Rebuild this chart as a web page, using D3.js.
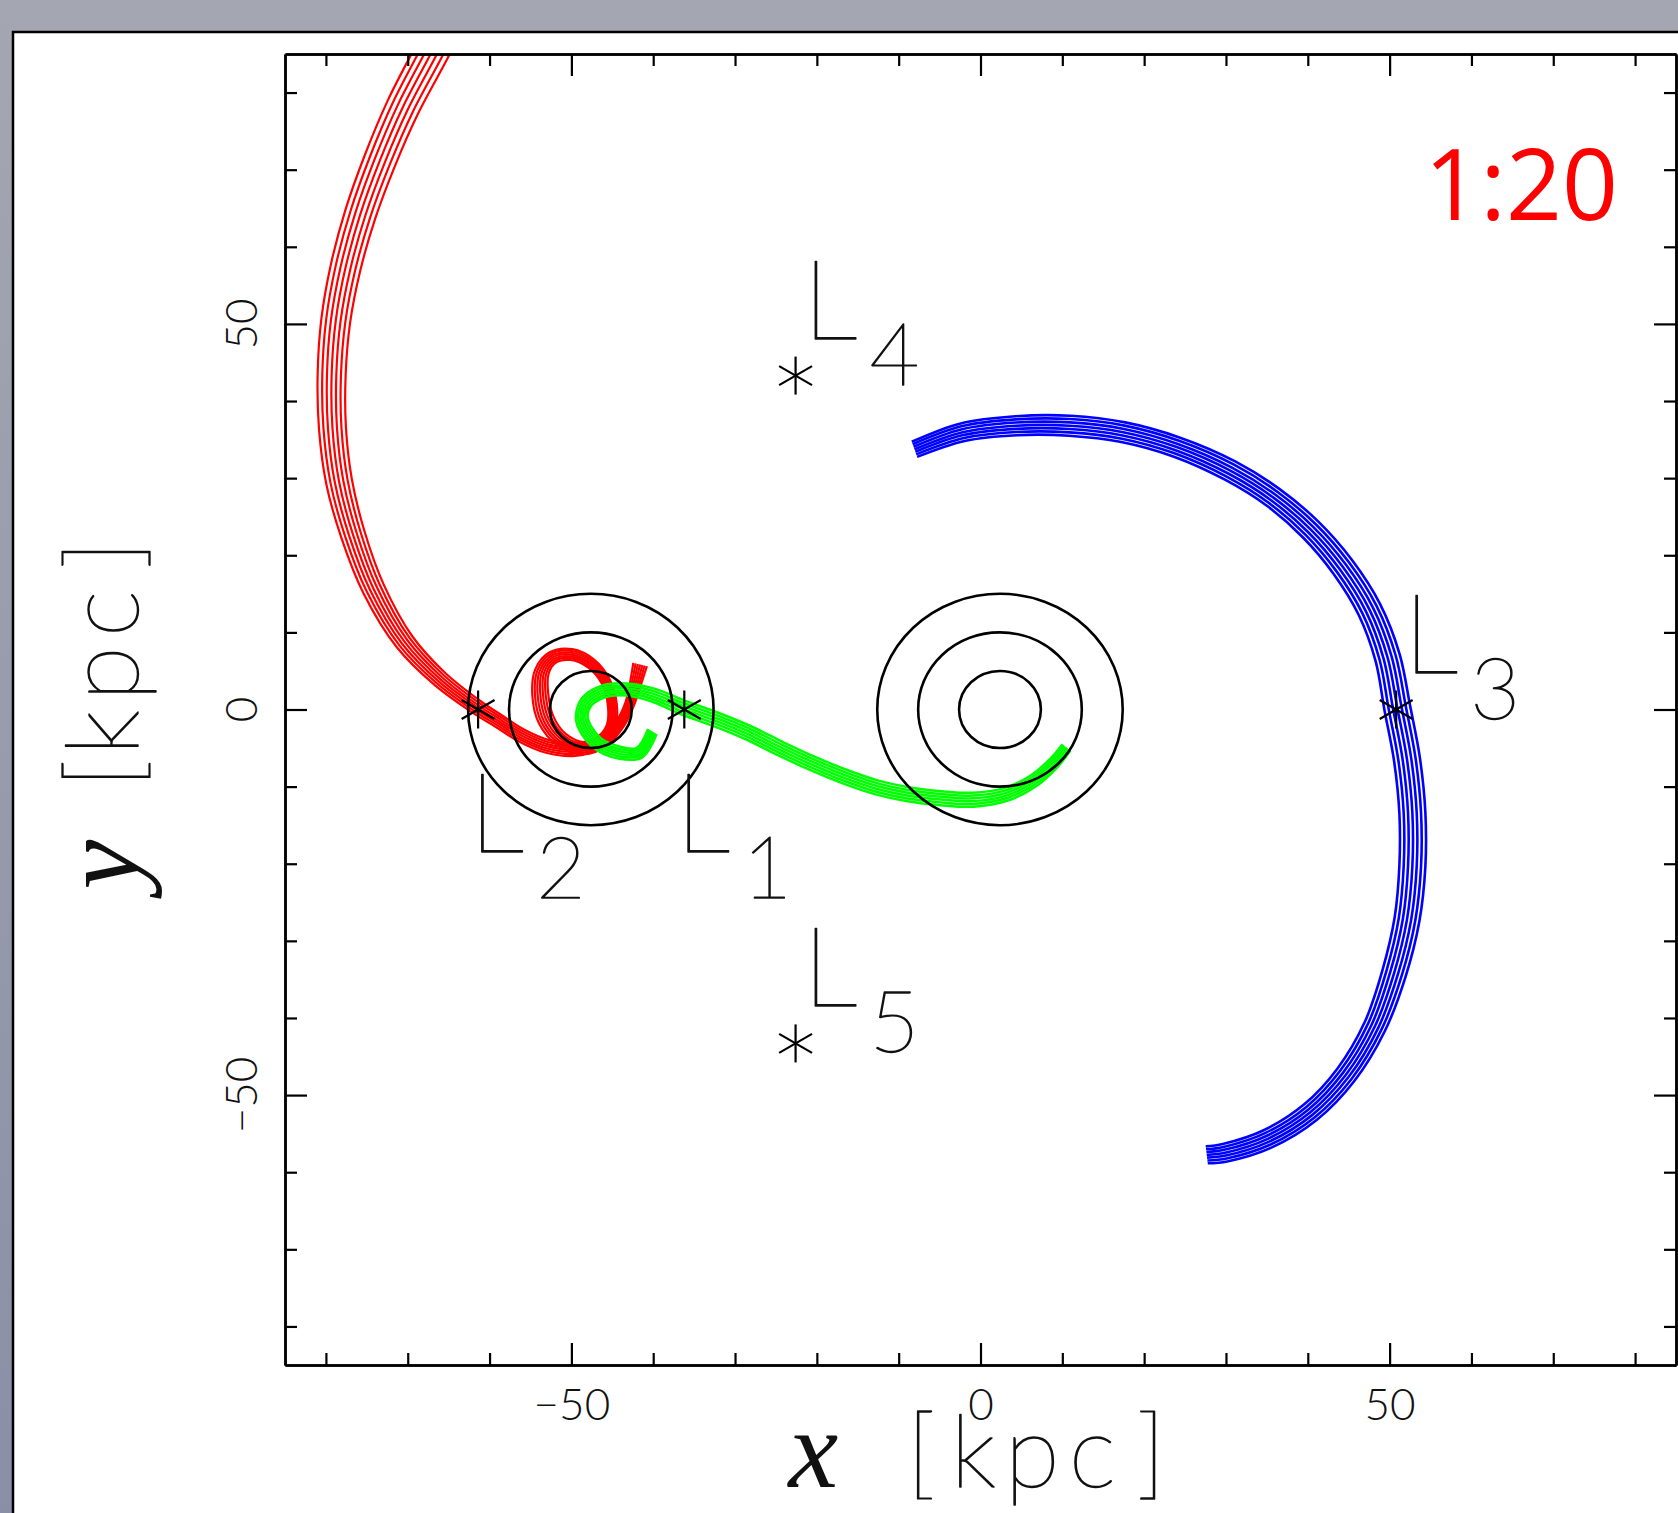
<!DOCTYPE html>
<html>
<head>
<meta charset="utf-8">
<script src="https://cdn.jsdelivr.net/npm/d3@7"></script>
<style>
  html, body { margin: 0; padding: 0; }
  body { width: 1678px; height: 1513px; overflow: hidden; }
  svg { display: block; }
</style>
</head>
<body>
<svg id="chart" width="1678" height="1513"></svg>
<script>
// Test-particle streams in the co-rotating frame of a 1:20 binary (units: kpc)

// primary centres on the x axis
const primaryNames = ["small", "large"];
const primaryX = [-47.62, 2.38];
const primaryY = [0, 0];
// effective-potential contour radii around each primary
const contourRadii = [5, 10, 15];

// Lagrange points
const lagrangeNames = ["1", "2", "3", "4", "5"];
const lagrangeX = [-36.2, -61.4, 50.8, -22.6, -22.6];
const lagrangeY = [0, 0, 0, 43.3, -43.3];

// stream centre lines [x, y]
const redStream = [
  [-66.2, 87.1], [-67.2, 85.0], [-70.6, 78.1], [-73.4, 71.2], [-75.8, 64.2],
  [-77.6, 57.3], [-78.8, 50.4], [-79.3, 43.4], [-79.2, 36.5], [-78.4, 29.6],
  [-76.7, 22.7], [-74.2, 15.7], [-70.4, 8.8], [-66.0, 3.9], [-61.4, 0.2],
  [-58.8, -1.55], [-56.1, -3.37], [-52.9, -4.79], [-49.6, -5.18], [-46.8, -4.40],
  [-45.2, -2.33], [-45.0, 0.65], [-45.8, 3.63], [-47.6, 5.96], [-50.0, 7.12],
  [-52.3, 6.74], [-53.6, 4.92], [-53.8, 1.94], [-53.1, -1.30], [-51.2, -3.89],
  [-48.4, -5.05], [-46.0, -4.15], [-44.1, -1.94], [-42.9, 0.65], [-42.2, 3.24],
  [-41.6, 5.83]
];
const greenStream = [
  [-40.1, -2.85], [-41.7, -5.6], [-44.1, -5.6], [-46.9, -4.3], [-48.7, -1.3],
  [-48.2, 0.9], [-46.2, 2.3], [-43.3, 2.6], [-40.1, 1.9], [-36.2, 0.2],
  [-32.3, -1.3], [-28.4, -3.0], [-24.4, -5.1], [-20.5, -7.0], [-16.6, -8.7],
  [-12.7, -10.1], [-8.8, -11.0], [-4.8, -11.5], [-0.9, -11.7], [3.1, -11.0],
  [6.4, -9.3], [8.9, -7.0], [10.5, -4.9]
];
const blueStream = [
  [-8.07, 33.74], [-2.18, 35.96], [4.36, 36.80], [10.90, 36.80], [17.44, 35.96],
  [23.98, 34.03], [30.53, 30.97], [35.76, 27.51], [40.34, 23.35], [44.27, 18.50],
  [47.54, 12.95], [49.76, 6.71], [50.94, 0.19], [52.12, -6.45], [52.78, -13.39],
  [52.78, -20.32], [52.12, -27.25], [50.55, -34.18], [48.19, -41.11], [44.66, -47.36],
  [40.34, -52.20], [35.11, -55.67], [29.88, -57.47], [27.65, -57.75]
];

// axis ticks
const majorTicks = [-50, 0, 50];
const minorTicks = [-80, -70, -60, -40, -30, -20, -10, 10, 20, 30, 40, 60, 70, 80];
const massRatioLabel = "1:20";

// ---------------------------------------------------------------- drawing
const W = 1678, H = 1513;
const svg = d3.select("#chart");
const defs = svg.append("defs");

const bg = defs.append("linearGradient").attr("id", "bgGrad")
  .attr("x1", 0).attr("y1", 0).attr("x2", 0).attr("y2", 1);
bg.append("stop").attr("offset", 0).attr("stop-color", "#a4a7b1");
bg.append("stop").attr("offset", 1).attr("stop-color", "#8a8fa6");
svg.append("rect").attr("width", W).attr("height", H).attr("fill", "url(#bgGrad)");
svg.append("rect").attr("x", 13).attr("y", 32).attr("width", W + 40).attr("height", H + 40)
  .attr("fill", "#fff").attr("stroke", "#000").attr("stroke-width", 2.5);

const plot = { left: 285, right: 1676, top: 54, bottom: 1365 };
const x = d3.scaleLinear().domain([-85, 85]).range([plot.left, plot.right]);
const y = d3.scaleLinear().domain([-85, 85]).range([plot.bottom, plot.top]);

defs.append("clipPath").attr("id", "plotClip").append("rect")
  .attr("x", plot.left).attr("y", plot.top)
  .attr("width", plot.right - plot.left).attr("height", plot.bottom - plot.top);

const thinFont = "Lato, 'Open Sans', 'DejaVu Sans', sans-serif";
const inkColor = "#111";
// thin face with a hairline outline, giving an even pen-like stroke
const penText = s => s.attr("font-family", thinFont).attr("font-weight", 200)
  .attr("fill", inkColor).attr("stroke", inkColor).attr("stroke-width", 1.4)
  .attr("stroke-linejoin", "round");

// streams: each drawn as a bundle of thin parallel tracks
const streamLayer = svg.append("g").attr("clip-path", "url(#plotClip)");
const curve = d3.line().curve(d3.curveCatmullRom.alpha(0.5));

function drawBundle(data, spread, color, tracks, trackWidth) {
  const pts = data.map(d => [x(d[0]), y(d[1])]);
  const normals = pts.map((p, i) => {
    const a = pts[Math.max(0, i - 1)], b = pts[Math.min(pts.length - 1, i + 1)];
    const dx = b[0] - a[0], dy = b[1] - a[1];
    const len = Math.hypot(dx, dy) || 1;
    return [-dy / len, dx / len];
  });
  for (let k = 0; k < tracks; k++) {
    const f = k / (tracks - 1) - 0.5;
    const track = pts.map((p, i) => [p[0] + normals[i][0] * f * spread[i],
                                     p[1] + normals[i][1] * f * spread[i]]);
    streamLayer.append("path").attr("d", curve(track))
      .attr("fill", "none").attr("stroke", color)
      .attr("stroke-width", trackWidth).attr("stroke-linejoin", "round");
  }
}

// bundle widths in px along each stream
const redSpread = [34, 34, 33, 32, 31, 30, 29, 28, 27, 26, 24, 22, 19, 16, 14,
                   13, 13, 13, 13, 11, 9, 9, 9, 10, 11, 12, 14, 16, 16, 14, 12, 10, 9, 9, 11, 14];
const greenSpread = [10, 11, 12, 12, 12, 12, 12, 12, 13, 14, 14, 14, 14, 14, 14, 14, 14, 14, 14, 13, 12, 11, 10];
const blueSpread = [16, 18, 19, 20, 20, 20, 21, 21, 22, 23, 24, 25, 26, 26, 26, 26, 25, 24, 22, 21, 20, 19, 18, 17];

drawBundle(blueStream, blueSpread, "#0000ff", 7, 2.6);
drawBundle(redStream, redSpread, "#ff0000", 7, 2.2);
drawBundle(greenStream, greenSpread, "#00ff00", 6, 2.5);

// contours around both primaries
const circleLayer = svg.append("g").attr("clip-path", "url(#plotClip)");
primaryNames.forEach((n, i) => {
  contourRadii.forEach(r => {
    circleLayer.append("ellipse")
      .attr("cx", x(primaryX[i])).attr("cy", y(primaryY[i]))
      .attr("rx", x(r) - x(0)).attr("ry", y(0) - y(r))
      .attr("fill", "none").attr("stroke", "#000").attr("stroke-width", 2.6);
  });
});

// Lagrange point markers and labels
const labelSide = { "1": "below", "2": "below", "3": "above", "4": "above", "5": "above" };
const markLayer = svg.append("g");
lagrangeNames.forEach((n, i) => {
  const sx = x(lagrangeX[i]), sy = y(lagrangeY[i]);
  const r = 19;
  [90, 30, -30].forEach(a => {
    const t = a * Math.PI / 180;
    markLayer.append("line")
      .attr("x1", sx - r * Math.cos(t)).attr("y1", sy - r * Math.sin(t))
      .attr("x2", sx + r * Math.cos(t)).attr("y2", sy + r * Math.sin(t))
      .attr("stroke", "#000").attr("stroke-width", 2.2);
  });
  const below = labelSide[n] === "below";
  const t = markLayer.append("text")
    .attr("x", below ? sx - 9 : sx + 7)
    .attr("y", below ? sy + 142 : sy - 37)
    .attr("font-size", 110).call(penText);
  t.append("tspan").text("L");
  t.append("tspan").attr("dx", 12).attr("dy", 46).attr("font-size", 86).text(n);
});

// axes (ticks point inward on all four sides)
const axisLayer = svg.append("g").attr("font-family", thinFont);
function addAxis(gen, tx, ty) {
  const g = axisLayer.append("g").attr("transform", `translate(${tx},${ty})`).call(gen);
  g.selectAll("path.domain").attr("stroke", "#000").attr("stroke-width", 2.5);
  g.selectAll(".tick line").attr("stroke", "#000").attr("stroke-width", 2.2);
  return g;
}
const fmt = d3.format("d");
const bottomAxis = addAxis(d3.axisBottom(x).tickValues(majorTicks).tickSize(-22).tickSizeOuter(0)
  .tickPadding(24).tickFormat(fmt), 0, plot.bottom);
bottomAxis.selectAll("text").attr("font-size", 44).attr("font-weight", 300)
  .attr("font-family", thinFont).attr("fill", inkColor);
addAxis(d3.axisBottom(x).tickValues(minorTicks).tickSize(-12).tickSizeOuter(0).tickFormat(""), 0, plot.bottom);
addAxis(d3.axisTop(x).tickValues(majorTicks).tickSize(-22).tickSizeOuter(0).tickFormat(""), 0, plot.top);
addAxis(d3.axisTop(x).tickValues(minorTicks).tickSize(-12).tickSizeOuter(0).tickFormat(""), 0, plot.top);
addAxis(d3.axisLeft(y).tickValues(majorTicks).tickSize(-22).tickSizeOuter(0).tickFormat(""), plot.left, 0);
addAxis(d3.axisLeft(y).tickValues(minorTicks).tickSize(-12).tickSizeOuter(0).tickFormat(""), plot.left, 0);
addAxis(d3.axisRight(y).tickValues(majorTicks).tickSize(-22).tickSizeOuter(0).tickFormat(""), plot.right, 0);
addAxis(d3.axisRight(y).tickValues(minorTicks).tickSize(-12).tickSizeOuter(0).tickFormat(""), plot.right, 0);

// rotated y tick labels
axisLayer.selectAll("text.ylab").data(majorTicks).join("text").attr("class", "ylab")
  .attr("transform", d => `translate(257,${y(d)}) rotate(-90)`)
  .attr("text-anchor", "middle").attr("font-size", 44).attr("font-weight", 300)
  .attr("fill", inkColor).text(d => fmt(d));

// axis titles: italic symbol followed by the bracketed unit
function axisTitle(sym, transform, offsets) {
  const t = svg.append("text").attr("transform", transform).attr("fill", inkColor);
  t.append("tspan").attr("x", offsets[0])
    .attr("font-family", "'Liberation Serif', 'DejaVu Serif', serif")
    .attr("font-style", "italic").attr("font-size", 112).text(sym);
  const unitStyle = s => s.call(penText).attr("font-size", 101);
  t.append("tspan").attr("x", offsets[1]).call(unitStyle).text("[");
  t.append("tspan").attr("x", offsets[2]).call(unitStyle).attr("letter-spacing", 9).text("kpc");
  t.append("tspan").attr("x", offsets[3]).call(unitStyle).text("]");
}
axisTitle("x", `translate(${x(0)},1487)`, [-192, -74, -30, 156]);
axisTitle("y", `translate(138,${y(0)}) rotate(-90)`, [-180, -79, -46, 140]);

// mass-ratio tag
svg.append("text").attr("x", 1618).attr("y", 220).attr("text-anchor", "end")
  .attr("font-family", "'Open Sans', 'Noto Sans', sans-serif").attr("font-size", 98)
  .attr("fill", "#ff0000").text(massRatioLabel);
</script>
</body>
</html>
